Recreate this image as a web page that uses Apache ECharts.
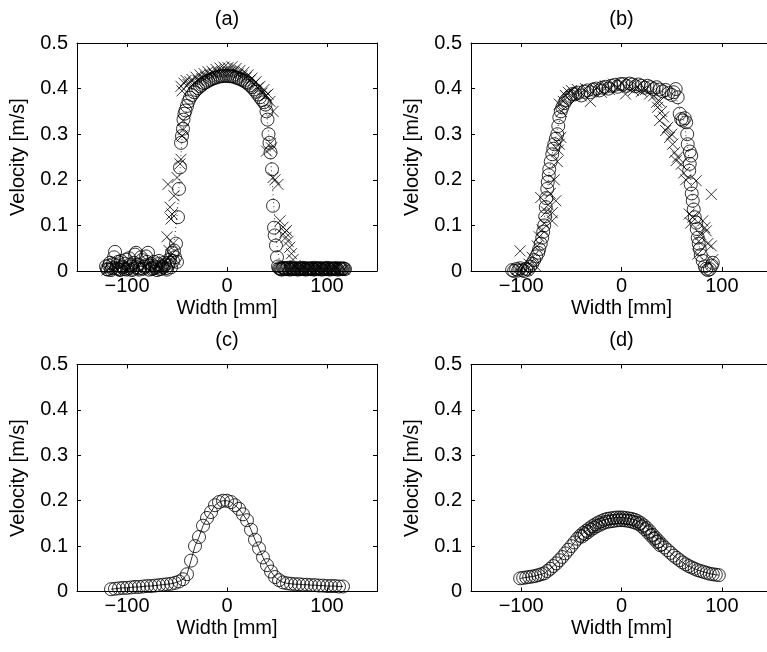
<!DOCTYPE html>
<html>
<head>
<meta charset="utf-8">
<script src="https://cdn.jsdelivr.net/npm/echarts@6/dist/echarts.min.js"></script>
<style>html,body{margin:0;padding:0;background:#fff;}#chart{width:767px;height:652px;}</style>
</head>
<body>
<div id="chart"></div>
<script>
// ---------- data ----------
const panelTitles = ['(a)', '(b)', '(c)', '(d)'];
const xTicks = [-100, 0, 100];
const yTicks = [0, 0.1, 0.2, 0.3, 0.4, 0.5];
const xName = 'Width [mm]';
const yName = 'Velocity [m/s]';

// (a) circles [width mm, velocity m/s]
const aCircles = [
[-121,0.010],[-119,0.003],[-117,0.018],[-115,0.006],[-113,0.030],[-112,0.042],[-110,0.012],[-108,0.004],[-106,0.022],[-104,0.008],
[-102,0.016],[-100,0.003],[-98,0.028],[-96,0.010],[-94,0.005],[-92,0.036],[-91,0.040],[-89,0.014],[-87,0.006],[-85,0.024],
[-83,0.009],[-81,0.032],[-79,0.040],[-77,0.012],[-75,0.004],[-73,0.020],[-71,0.008],[-69,0.015],[-67,0.004],[-65,0.010],
[-63,0.018],[-61,0.006],[-59,0.012],[-57,0.025],[-55,0.040],[-53,0.045],[-52,0.030],[-51,0.060],[-50,0.020],
[-120,0.004],[-118,0.012],[-116,0.002],[-114,0.015],[-111,0.006],[-109,0.020],[-107,0.002],[-105,0.010],[-103,0.004],[-101,0.025],
[-99,0.006],[-97,0.014],[-95,0.002],[-93,0.018],[-90,0.008],[-88,0.003],[-86,0.030],[-84,0.005],[-82,0.012],[-80,0.020],
[-78,0.003],[-76,0.016],[-74,0.006],[-72,0.010],[-70,0.002],[-68,0.022],[-66,0.005],[-64,0.008],[-62,0.014],[-60,0.003],
[-58,0.018],[-56,0.008],[-54,0.022],
[-49,0.118],[-48,0.180],[-47,0.227],[-46,0.281],[-45,0.296],[-44,0.312],[-43.5,0.332],[-42.5,0.345],[-41.5,0.352],[-40,0.362],[-38.5,0.372],[-37,0.380],
[-35,0.386],[-33,0.392],[-31,0.397],[-29,0.401],[-27,0.405],[-25,0.408],[-23,0.412],[-21,0.414],[-19,0.417],[-17,0.419],
[-15,0.421],[-13,0.423],[-11,0.424],[-9,0.426],[-7,0.427],[-5,0.427],[-3,0.428],[-1,0.428],[1,0.428],[3,0.427],
[5,0.427],[7,0.426],[9,0.424],[11,0.423],[13,0.421],[15,0.419],[17,0.417],[19,0.414],[21,0.411],[23,0.407],
[25,0.403],[27,0.398],[29,0.393],[31,0.387],[33,0.381],[35,0.375],[37,0.370],
[38.5,0.365],[39.5,0.350],[40.5,0.332],[41.5,0.300],[42.5,0.281],[43.5,0.260],[45,0.223],[46,0.143],[47,0.095],[47.7,0.078],[49,0.056],[50,0.030],[51,0.010],
[52,0.006],[54,0.004],[56,0.007],[58,0.005],[60,0.006],[62,0.004],[64,0.007],[66,0.005],[68,0.006],[70,0.004],
[72,0.006],[74,0.005],[76,0.007],[78,0.004],[80,0.006],[82,0.005],[84,0.006],[86,0.004],[88,0.007],[90,0.005],
[92,0.006],[94,0.004],[96,0.006],[98,0.005],[100,0.007],[102,0.004],[104,0.006],[106,0.005],[108,0.006],[110,0.004],
[112,0.006],[114,0.005],[116,0.006],[118,0.004],
[53,0.005],[55,0.003],[57,0.006],[59,0.004],[61,0.007],[63,0.003],[65,0.005],[67,0.004],[69,0.006],[71,0.003],
[73,0.005],[75,0.004],[77,0.006],[79,0.003],[81,0.005],[83,0.004],[85,0.006],[87,0.003],[89,0.005],[91,0.004],
[93,0.006],[95,0.003],[97,0.005],[99,0.004],[101,0.006],[103,0.003],[105,0.005],[107,0.004],[109,0.006],[111,0.003],
[113,0.005],[115,0.004],[117,0.005]
];
// (a) crosses
const aCrosses = [
[-120,0.002],[-117,0.006],[-114,0.001],[-110,0.004],[-106,0.009],[-102,0.002],[-98,0.005],[-94,0.001],[-90,0.007],[-86,0.003],
[-82,0.010],[-78,0.002],[-74,0.006],[-70,0.012],[-66,0.004],[-62,0.020],[-60,0.075],[-58,0.045],[-56,0.035],[-54,0.060],[-52,0.025],
[-59,0.190],[-57,0.140],[-56,0.114],[-55,0.125],[-53,0.165],[-50,0.205],[-47,0.235],[-46,0.245],[-45,0.296],[-44,0.330],
[-44,0.310],[-46,0.405],[-45,0.395],[-43,0.412],[-41,0.418],[-39,0.409],
[-37,0.415],[-35,0.420],[-33,0.412],[-31,0.425],[-29,0.418],[-27,0.430],[-25,0.422],[-23,0.433],[-21,0.426],[-19,0.437],
[-17,0.430],[-15,0.438],[-13,0.432],[-11,0.442],[-9,0.435],[-7,0.445],[-5,0.436],[-3,0.447],[-1,0.438],[1,0.446],
[3,0.437],[5,0.448],[7,0.438],[9,0.444],[11,0.432],[13,0.440],[15,0.428],[17,0.436],[19,0.424],[21,0.430],
[23,0.418],[25,0.423],[27,0.410],[29,0.415],[31,0.402],[33,0.405],[35,0.390],[37,0.398],[39,0.385],
[41,0.388],[43,0.372],[46,0.350],[39.5,0.263],[44.5,0.270],[43.5,0.280],[46,0.205],[48,0.200],[51,0.190],[53,0.110],
[56,0.096],[58,0.085],[59.5,0.089],[59,0.074],[61,0.065],[62.7,0.052],[64.5,0.038],[66,0.025],[68,0.012],[70,0.005],
[73,0.003],[77,0.006],[81,0.002],[85,0.005],[89,0.003],[93,0.006],[97,0.002],[101,0.005],[105,0.003],[109,0.006],
[113,0.002],[117,0.004]
];
// (a) profile line
const aProfile = [
[-121,0.010],[-60,0.012],[-54,0.040],[-50,0.120],[-47,0.220],[-45,0.290],[-42,0.340],[-37,0.375],[-30,0.398],[-20,0.415],
[-10,0.425],[0,0.430],[10,0.425],[20,0.413],[30,0.392],[37,0.370],[40,0.340],[43,0.270],[46,0.170],[49,0.070],
[53,0.015],[60,0.005],[118,0.005]
];

// (b) circles
const bCircles = [
[-109,0.002],[-107,0.000],[-105,0.004],[-103,0.001],[-101,0.006],[-99,0.002],[-97,0.000],[-95,0.005],[-93,0.003],[-91,0.010],
[-89,0.016],[-87,0.024],[-85,0.032],[-83,0.040],[-82,0.048],[-80.5,0.060],[-79,0.073],[-78,0.086],[-77,0.100],[-76,0.120],
[-75.5,0.140],[-75,0.160],[-74,0.180],[-73.5,0.195],[-72.5,0.210],[-72,0.223],[-70.5,0.240],[-69,0.256],[-68,0.268],[-67,0.278],
[-65.5,0.290],[-64,0.300],[-63,0.318],[-62,0.337],[-60.5,0.350],[-59,0.359],[-57,0.368],[-55.5,0.374],[-53,0.380],[-51,0.384],[-49,0.388],
[-46,0.388],[-43,0.391],[-40,0.385],[-37,0.393],[-34,0.396],[-31,0.392],[-28,0.398],[-25,0.400],[-22,0.396],[-19,0.402],
[-16,0.404],[-13,0.400],[-10,0.406],[-7,0.408],[-4,0.404],[-1,0.410],[2,0.410],[5,0.406],[8,0.411],[11,0.409],
[14,0.405],[17,0.409],[20,0.406],[23,0.402],[26,0.406],[29,0.403],[32,0.399],[35,0.403],[38,0.398],[41,0.394],
[44,0.397],[47,0.390],[50,0.386],[52,0.392],[54,0.399],[56,0.381],
[58,0.345],[59.5,0.333],[61,0.330],[63,0.335],[64.5,0.326],[65.5,0.300],[66,0.278],[68,0.262],[69.5,0.253],[68,0.235],
[67.5,0.220],[69,0.190],[70,0.170],[71,0.154],[72,0.135],[73,0.118],[74.5,0.106],[75,0.092],[76,0.073],[77,0.060],
[78,0.048],[79,0.035],[81,0.022],[83,0.010],[84.5,0.005],[86,0.002],[88,0.004],[90,0.012],[91,0.018]
];
// (b) crosses
const bCrosses = [
[-104,0.003],[-101,0.044],[-98,0.008],[-95,0.002],[-92,0.015],[-89,0.030],[-86,0.012],[-84,0.055],[-82,0.075],[-80.5,0.161],
[-79,0.090],[-77,0.105],[-75,0.130],[-73,0.145],[-71,0.170],[-69,0.110],[-69,0.128],[-67,0.200],[-65.5,0.154],[-64,0.240],
[-63,0.265],[-62,0.278],[-60.5,0.293],[-62,0.366],[-60,0.350],[-58,0.372],[-56,0.385],[-53,0.392],[-50,0.396],[-47,0.386],
[-44,0.398],[-40,0.384],[-36,0.400],[-31,0.372],[-28,0.395],[-24,0.402],[-20,0.392],[-16,0.406],[-12,0.398],[-8,0.410],
[-4,0.402],[0,0.412],[4,0.388],[8,0.405],[12,0.396],[16,0.404],[20,0.394],[24,0.398],[28,0.388],[32,0.384],
[35,0.370],[36,0.359],[38,0.372],[40,0.350],[42,0.338],[38,0.330],[44,0.308],[46,0.315],[48,0.293],[50,0.300],
[51,0.278],[53,0.260],[54.5,0.242],[56,0.250],[59.5,0.234],[62,0.215],[64,0.200],[67.5,0.125],[69,0.105],[71,0.118],
[74.5,0.198],[76,0.037],[77,0.065],[79,0.080],[81,0.110],[83,0.095],[84.5,0.088],[86,0.060],[89.5,0.168],[89.5,0.055],[91,0.025]
];
// (b) profile line
const bProfile = [
[-109,0.002],[-92,0.005],[-85,0.030],[-80,0.070],[-76,0.130],[-72,0.220],[-68,0.270],[-63,0.320],[-58,0.360],[-50,0.385],
[-30,0.398],[0,0.408],[30,0.402],[45,0.390],[55,0.375],[62,0.330],[66,0.270],[69,0.200],[72,0.130],[76,0.070],
[80,0.030],[85,0.005],[91,0.010]
];

// (c)
const cX = [-116,-112,-108,-104,-100,-96,-92,-88,-84,-80,-76,-72,-68,-64,-60,-56,-52,-48,-44,-40,
-36,-32,-28,-24,-20,-16,-12,-8,-4,0,4,8,12,16,20,24,28,32,36,40,
44,48,52,56,60,64,68,72,76,80,84,88,92,96,100,104,108,112,116];
const cY = [0.005,0.006,0.007,0.008,0.008,0.009,0.010,0.010,0.011,0.012,0.012,0.013,0.014,0.015,0.016,0.017,0.019,0.022,0.027,0.038,
0.068,0.100,0.120,0.145,0.162,0.175,0.190,0.197,0.200,0.200,0.197,0.190,0.182,0.170,0.157,0.136,0.114,0.095,0.075,0.058,
0.044,0.032,0.025,0.020,0.018,0.017,0.016,0.016,0.015,0.015,0.014,0.014,0.013,0.013,0.012,0.012,0.012,0.011,0.011];

// (d) main row
const dX = [-101,-98,-95,-92,-89,-86,-83,-80,-77,-74,-71,-68,-65,-62,-59,-56,-53,-50,-47,-44,
-41,-38,-35,-32,-29,-26,-23,-20,-17,-14,-11,-8,-5,-2,1,4,7,10,13,16,
19,22,25,28,31,34,37,40,43,46,49,52,55,58,61,64,67,70,73,76,
79,82,85,88,91,94,97];
const dY = [0.029,0.030,0.031,0.032,0.033,0.034,0.036,0.038,0.040,0.045,0.050,0.056,0.062,0.069,0.076,0.084,0.092,0.100,0.108,0.116,
0.123,0.129,0.134,0.139,0.144,0.148,0.152,0.155,0.158,0.160,0.161,0.162,0.163,0.163,0.163,0.162,0.161,0.160,0.158,0.155,
0.151,0.146,0.140,0.133,0.125,0.118,0.111,0.104,0.097,0.091,0.085,0.079,0.074,0.069,0.064,0.060,0.056,0.053,0.050,0.047,
0.045,0.043,0.041,0.039,0.038,0.037,0.036];
// (d) second (lower) row near the peak
const dX2 = [-39.5,-36.5,-33.5,-30.5,-27.5,-24.5,-21.5,-18.5,-15.5,-12.5,-9.5,-6.5,-3.5,-0.5,2.5,5.5,8.5,11.5,14.5,17.5,
20.5,23.5,26.5,29.5,32.5,35.5,38.5];
const dY2 = [0.121,0.126,0.131,0.136,0.140,0.144,0.147,0.150,0.153,0.154,0.155,0.156,0.157,0.157,0.157,0.156,0.155,0.153,0.151,0.148,
0.143,0.137,0.130,0.123,0.116,0.109,0.102];

// ---------- layout / style ----------
const FONT = '"Liberation Sans", Arial, Helvetica, sans-serif';
const FS = 20;
const panels = [
  {left: 77,  top: 43,    width: 300, height: 228},
  {left: 471, top: 43,    width: 301, height: 228},
  {left: 77,  top: 364.5, width: 300, height: 227},
  {left: 471, top: 364.5, width: 301, height: 227}
];
const txt = {color: '#000', fontFamily: FONT, fontSize: FS};
const lineBlack = {color: '#000', width: 1};

const grids = [], xAxes = [], yAxes = [];
panels.forEach((p, i) => {
  grids.push({left: p.left, top: p.top, width: p.width, height: p.height, show: false, outerBoundsMode: 'none', containLabel: false});
  xAxes.push({
    gridIndex: i, type: 'value', min: -150, max: 150, position: 'bottom',
    axisLine: {show: true, onZero: false, lineStyle: lineBlack},
    axisTick: {show: true, inside: true, length: 4, customValues: xTicks, lineStyle: lineBlack},
    axisLabel: {show: true, customValues: xTicks, margin: 5, ...txt,
      formatter: v => String(v).replace('-', '\u2212')},
    splitLine: {show: false},
    name: xName, nameLocation: 'middle', nameGap: 27, nameTextStyle: txt
  });
  xAxes.push({
    gridIndex: i, type: 'value', min: -150, max: 150, position: 'top',
    axisLine: {show: true, onZero: false, lineStyle: lineBlack},
    axisTick: {show: true, inside: true, length: 4, customValues: xTicks, lineStyle: lineBlack},
    axisLabel: {show: false},
    splitLine: {show: false},
    name: panelTitles[i], nameLocation: 'middle', nameGap: 14, nameTextStyle: txt
  });
  yAxes.push({
    gridIndex: i, type: 'value', min: 0, max: 0.5, position: 'left',
    axisLine: {show: true, onZero: false, lineStyle: lineBlack},
    axisTick: {show: true, inside: true, length: 4, customValues: yTicks, lineStyle: lineBlack},
    axisLabel: {show: true, customValues: yTicks, margin: 9, ...txt,
      formatter: v => (v === 0 ? '0' : v.toFixed(1))},
    splitLine: {show: false},
    name: yName, nameLocation: 'middle', nameGap: 49, nameRotate: 90, nameTextStyle: txt
  });
  yAxes.push({
    gridIndex: i, type: 'value', min: 0, max: 0.5, position: 'right',
    axisLine: {show: true, onZero: false, lineStyle: lineBlack},
    axisTick: {show: true, inside: true, length: 4, customValues: yTicks, lineStyle: lineBlack},
    axisLabel: {show: false},
    splitLine: {show: false}
  });
});

const crossPath = 'path://M0,0L10,10M10,0L0,10';
const hollow = {color: 'rgba(0,0,0,0)', borderColor: '#000', borderWidth: 1};
function circles(data, i) {
  return {type: 'scatter', xAxisIndex: 2*i, yAxisIndex: 2*i, data, symbol: 'circle', symbolSize: 13,
    itemStyle: hollow, clip: false, silent: true, z: 3};
}
function crosses(data, i) {
  return {type: 'scatter', xAxisIndex: 2*i, yAxisIndex: 2*i, data, symbol: crossPath, symbolSize: 11,
    itemStyle: {color: 'none', borderColor: '#000', borderWidth: 1}, clip: false, silent: true, z: 4};
}
function profile(data, i, dashed) {
  return {type: 'line', xAxisIndex: 2*i, yAxisIndex: 2*i, data, showSymbol: false, symbol: 'none',
    lineStyle: {color: '#000', width: 0.8, type: dashed ? [1, 3] : 'solid'}, silent: true, z: 2};
}
const zip = (xs, ys) => xs.map((x, k) => [x, ys[k]]);

const series = [
  profile(aProfile, 0, true), circles(aCircles, 0), crosses(aCrosses, 0),
  profile(bProfile, 1, true), circles(bCircles, 1), crosses(bCrosses, 1),
  profile(zip(cX, cY), 2, false), circles(zip(cX, cY), 2),
  profile(zip(dX, dY), 3, false), circles(zip(dX, dY), 3), circles(zip(dX2, dY2), 3)
];

const chart = echarts.init(document.getElementById('chart'), null, {renderer: 'canvas'});
chart.setOption({
  animation: false,
  backgroundColor: '#fff',
  grid: grids, xAxis: xAxes, yAxis: yAxes, series
});
</script>
</body>
</html>
